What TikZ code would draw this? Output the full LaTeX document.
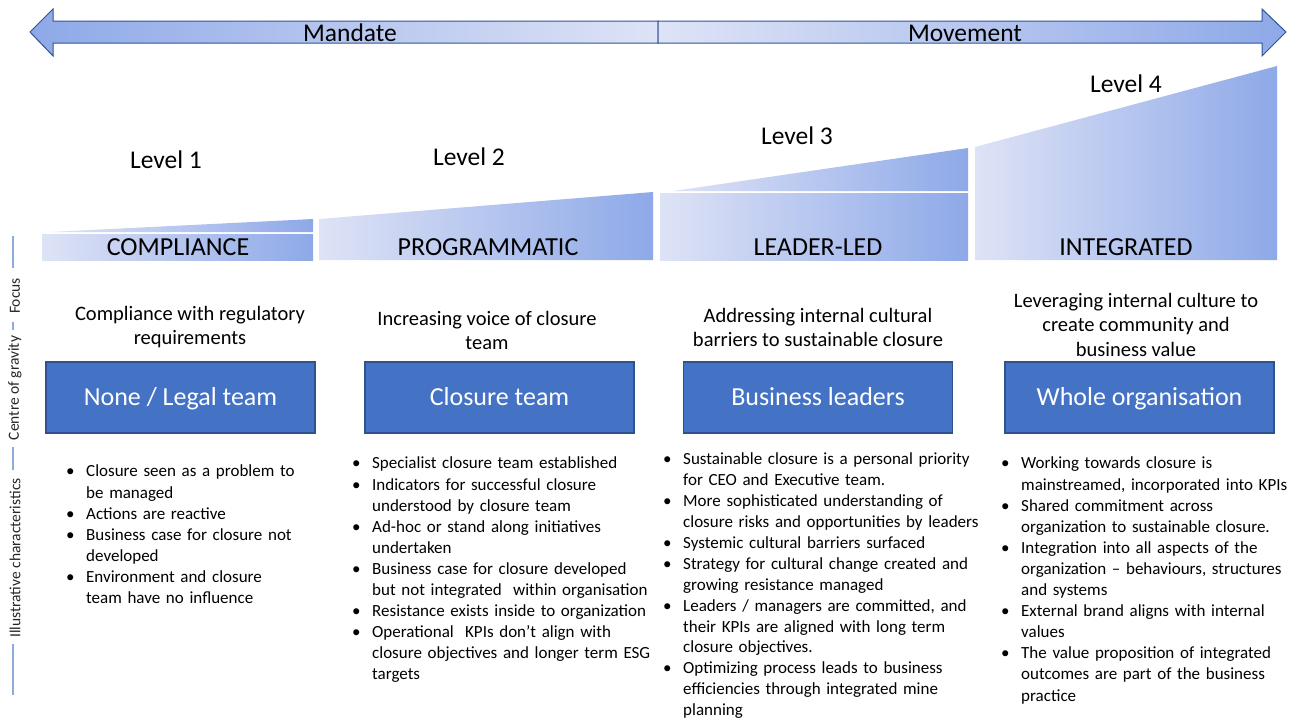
\documentclass[tikz,border=0pt]{standalone}
\usepackage{fontspec}
\setmainfont{Carlito}

\definecolor{arrowEdge}{HTML}{2F5597}
\definecolor{shadeDark}{HTML}{8EA9E8}
\definecolor{shadeLight}{HTML}{DEE3F6}
\definecolor{boxFill}{HTML}{4472C4}
\definecolor{boxEdge}{HTML}{2F528F}
\definecolor{axisLine}{HTML}{8FAADC}

\hyphenpenalty=10000

% One bullet point with a hanging indent.
\newcommand{\trait}[1]{\hangindent=20pt\hangafter=1\noindent\makebox[20pt][l]{\textbullet}\strut#1\par}

\begin{document}
\begin{tikzpicture}[x=1pt, y=-1pt,
  level/.style = {inner sep=0, font=\fontsize{25.5}{30}\selectfont},
  stage/.style = {inner sep=0, font=\fontsize{26}{30}\selectfont},
  focus/.style = {anchor=north, inner sep=0, align=center, font=\fontsize{20.5}{24.5}\selectfont},
  actor/.style = {rectangle, draw=boxEdge, line width=1.3pt, fill=boxFill, text=white,
                  minimum width=269pt, minimum height=71pt, text height=18pt, text depth=2pt,
                  font=\fontsize{26}{30}\selectfont},
  traits/.style = {anchor=north west, inner sep=0, text width=330pt, align=left,
                   font=\fontsize{17}{21.1}\selectfont},
  axis/.style = {rotate=90, inner sep=0, text=black!85, font=\fontsize{15.5}{18}\selectfont},
  axisline/.style = {draw=axisLine, line width=1.5pt},
  rising/.style = {left color=shadeLight, right color=shadeDark}]
  \path [use as bounding box] (0, 0) rectangle (1302, 720);

  % Mandate / movement arrow.
  \path [draw=arrowEdge, line width=1pt, left color=shadeDark, right color=shadeLight]
        (30, 32) -- (53, 9) -- (53, 21) -- (658, 21) -- (658, 43) -- (53, 43) -- (53, 56) -- cycle;
  \path [draw=arrowEdge, line width=1pt, left color=shadeLight, right color=shadeDark]
        (658, 21) -- (1262, 21) -- (1262, 9) -- (1286, 32) -- (1262, 56) -- (1262, 43) -- (658, 43) -- cycle;
  \node at (350, 33) [level, name=Mandate] {Mandate};
  \node at (965, 33) [level, name=Movement] {Movement};

  % Stage wedges.
  \shade [rising] (50, 232) -- (313, 219) -- (313, 232) -- cycle;
  \shade [rising] (42, 234) rectangle (313, 260);
  \shade [rising] (319, 219) -- (653, 192) -- (653, 260) -- (319, 260) -- cycle;
  \shade [rising] (673, 191) -- (968, 148) -- (968, 191) -- cycle;
  \shade [rising] (660, 193) rectangle (968, 260);
  \shade [rising] (975, 147) -- (1277, 66) -- (1277, 260) -- (975, 260) -- cycle;

  % Levels.
  \node at (166, 160) [level, name=LevelOne] {Level 1};
  \node at (469, 157) [level, name=LevelTwo] {Level 2};
  \node at (797, 136) [level, name=LevelThree] {Level 3};
  \node at (1126, 84) [level, name=LevelFour] {Level 4};

  \node at (178, 247) [stage, name=Compliance] {COMPLIANCE};
  \node at (488, 247) [stage, name=Programmatic] {PROGRAMMATIC};
  \node at (818, 247) [stage, name=LeaderLed] {LEADER-LED};
  \node at (1126, 247) [stage, name=Integrated] {INTEGRATED};

  % Focus.
  \node at (190, 303) [focus, name=FocusCompliance]
        {\strut Compliance with regulatory\\requirements};
  \node at (487, 308) [focus, name=FocusProgrammatic]
        {\strut Increasing voice of closure\\team};
  \node at (818, 305) [focus, name=FocusLeaderLed]
        {\strut Addressing internal cultural\\barriers to sustainable closure};
  \node at (1136, 290) [focus, name=FocusIntegrated]
        {\strut Leveraging internal culture to\\create community and\\business value};

  % Centre of gravity.
  \node at (180.5, 397.5) [actor, name=NoneLegal] {None / Legal team};
  \node at (499.5, 397.5) [actor, name=ClosureTeam] {Closure team};
  \node at (818, 397.5) [actor, name=BusinessLeaders] {Business leaders};
  \node at (1139.5, 397.5) [actor, name=WholeOrg] {Whole organisation};

  % Illustrative characteristics.
  \node at (66, 462) [traits, name=TraitsCompliance] {
    \trait{Closure seen as a problem to\newline be managed}
    \trait{Actions are reactive}
    \trait{Business case for closure not\newline developed}
    \trait{Environment and closure\newline team have no influence}};
  \node at (352, 454) [traits, name=TraitsProgrammatic] {
    \trait{Specialist closure team established}
    \trait{Indicators for successful closure\newline understood by closure team}
    \trait{Ad-hoc or stand along initiatives\newline undertaken}
    \trait{Business case for closure developed\newline but not integrated\ \ within organisation}
    \trait{Resistance exists inside to organization}
    \trait{Operational\ \ KPIs don’t align with\newline closure objectives and longer term ESG\newline targets}};
  \node at (663, 450) [traits, name=TraitsLeaderLed, font=\fontsize{17}{20.9}\selectfont] {
    \trait{Sustainable closure is a personal priority\newline for CEO and Executive team.}
    \trait{More sophisticated understanding of\newline closure risks and opportunities by leaders}
    \trait{Systemic cultural barriers surfaced}
    \trait{Strategy for cultural change created and\newline growing resistance managed}
    \trait{Leaders / managers are committed, and\newline their KPIs are aligned with long term\newline closure objectives.}
    \trait{Optimizing process leads to business\newline efficiencies through integrated mine\newline planning}};
  \node at (1001, 454) [traits, name=TraitsIntegrated] {
    \trait{Working towards closure is\newline mainstreamed, incorporated into KPIs}
    \trait{Shared commitment across\newline organization to sustainable closure.}
    \trait{Integration into all aspects of the\newline organization -- behaviours, structures\newline and systems}
    \trait{External brand aligns with internal\newline values}
    \trait{The value proposition of integrated\newline outcomes are part of the business\newline practice}};

  % Side axis.
  \node at (15, 296) [axis, name=AxisFocus] {Focus};
  \node at (15, 388) [axis, name=AxisCentre] {Centre of gravity};
  \node at (15, 558) [axis, name=AxisTraits] {Illustrative characteristics};
  \draw [axisline] (13, 236) -- (13, 268);
  \draw [axisline] (13, 322) -- (13, 330);
  \draw [axisline] (13, 447) -- (13, 470);
  \draw [axisline] (13, 644) -- (13, 695);
\end{tikzpicture}
\end{document}
